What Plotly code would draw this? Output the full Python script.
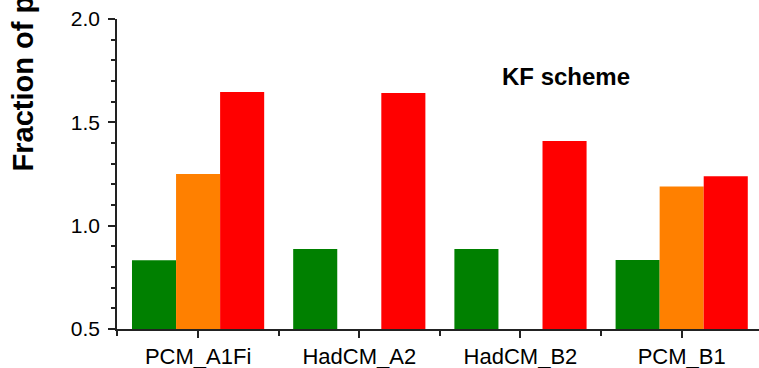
import plotly.graph_objects as go

categories = ["PCM_A1Fi", "HadCM_A2", "HadCM_B2", "PCM_B1"]
green_vals = [0.833, 0.887, 0.887, 0.834]
orange_vals = [1.25, None, None, 1.19]
red_vals = [1.647, 1.642, 1.41, 1.239]
series_colors = ["#008000", "#FF8000", "#FF0000"]
y_title = "Fraction of present"
note = "KF scheme"

xpos = list(range(len(categories)))

fig = go.Figure()
for vals, col in zip([green_vals, orange_vals, red_vals], series_colors):
    fig.add_trace(go.Bar(x=xpos, y=vals, marker=dict(color=col, line=dict(width=0)),
                         showlegend=False))

W, H = 759, 368
ml, mr, mt, mb = 117, 0, 19, 39
fig.update_layout(
    width=W, height=H,
    margin=dict(l=ml, r=mr, t=mt, b=mb),
    barmode="group", bargap=0.18, bargroupgap=0,
    plot_bgcolor="white", paper_bgcolor="white",
    font=dict(family="Arial, Liberation Sans", color="black"),
)
fig.update_xaxes(
    range=[-0.503, -0.503 + (W - ml) / 161.2],
    tickvals=xpos, ticktext=categories,
    tickfont=dict(size=22, family="Arial, Liberation Sans"),
    showline=True, linecolor="#222222", linewidth=1.5,
    ticks="outside", ticklen=7, tickwidth=1.5, tickcolor="#222222",
    minor=dict(ticks="outside", ticklen=5, tick0=0.5, dtick=1, tickwidth=1.5, tickcolor="#222222"),
    showgrid=False, zeroline=False,
)
fig.update_yaxes(
    range=[0.5, 2.0],
    tickvals=[0.5, 1.0, 1.5, 2.0], ticktext=["0.5", "1.0", "1.5", "2.0"],
    tickfont=dict(size=21, family="Arial, Liberation Sans"),
    showline=True, linecolor="#222222", linewidth=1.5,
    ticks="outside", ticklen=7, tickwidth=1.5, tickcolor="#222222",
    minor=dict(ticks="outside", ticklen=4, tick0=0.5, dtick=0.1, tickwidth=1.5, tickcolor="#222222"),
    showgrid=False, zeroline=False, ticklabelstandoff=4,
)
plot_h = H - mt - mb
fig.add_annotation(
    text="<b>" + y_title + "</b>", textangle=-90,
    xref="paper", yref="paper",
    x=(4 - ml) / (W - ml - mr), y=(H - mb - 174) / plot_h,
    xanchor="left", yanchor="bottom", showarrow=False,
    font=dict(size=29, family="Arial, Liberation Sans", color="black"),
)
fig.add_annotation(
    text="<b>" + note + "</b>",
    xref="paper", yref="paper",
    x=(566 - ml) / (W - ml - mr), y=(H - mb - 76) / plot_h,
    xanchor="center", yanchor="middle", showarrow=False,
    font=dict(size=24, family="Arial, Liberation Sans", color="black"),
)
fig.write_html(
    "out.html",
    config={"displayModeBar": False},
    post_script="document.body.style.margin='0';document.body.style.overflow='hidden';",
)
